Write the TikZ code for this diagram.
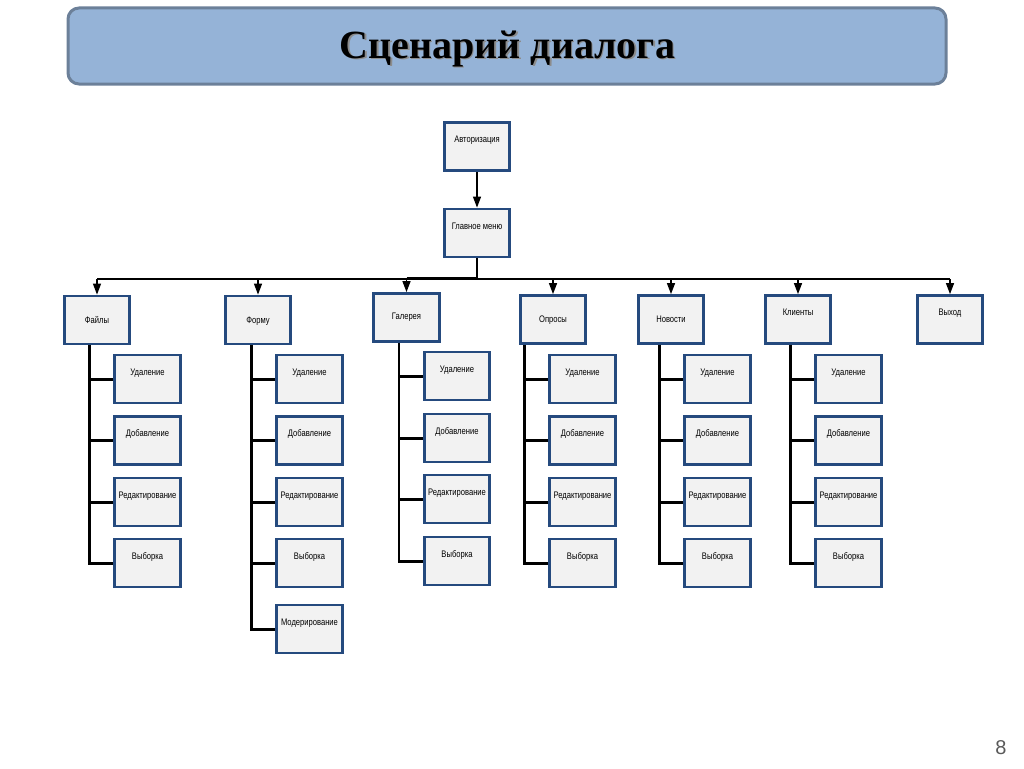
\documentclass[tikz,border=0pt]{standalone}
\usepackage{fontspec}
\setmainfont{Liberation Serif}
\newfontfamily\narrow[FakeStretch=0.8]{Liberation Sans}
\newfontfamily\pgfont{Liberation Sans}
\usetikzlibrary{arrows.meta}
\definecolor{boxblue}{HTML}{254A7E}
\definecolor{boxfill}{HTML}{F2F2F2}
\definecolor{titlefill}{HTML}{95B3D7}
\definecolor{titleborder}{HTML}{6C8099}
\definecolor{pggray}{HTML}{595959}
\tikzset{
  box/.style={draw=boxblue, line width=2.8pt, fill=boxfill, minimum width=65.5pt,
    minimum height=48pt, inner sep=0pt, text height=7pt,
    font=\narrow\fontsize{9.5}{10}\selectfont},
  up/.style={text depth=15pt},
  mid/.style={text depth=1pt},
  lift/.style={text depth=4pt},
  arr/.style={line width=1.3pt, -{Triangle[length=11pt,width=8pt]}},
  bus/.style={line width=1.5pt},
  tree/.style={line width=2.6pt},
  twig/.style={line width=3pt},
}
\begin{document}
\begin{tikzpicture}[x=1pt,y=-1pt]
\useasboundingbox (0,0) rectangle (1024,768);
% title
\node[draw=titleborder, line width=3pt, fill=titlefill, rounded corners=11pt,
  minimum width=878pt, minimum height=76pt, inner sep=0pt] (title) at (507,46) {};
\node[text=black!45] at (508.8,50) {\fontsize{40}{44}\selectfont\bfseries Сценарий диалога};
\node (tt) at (507.5,48.5) {\fontsize{40}{44}\selectfont\bfseries Сценарий диалога};
% page number
\node[text=pggray, font=\pgfont\fontsize{20}{22}\selectfont] (pg) at (1001,748) {8};

% top nodes
\node[box, up] (au) at (477,146.5) {Авторизация};
\node[box, up] (gm) at (477,233) {Главное меню};
\coordinate (bs) at (477,279);

\node[box, mid] (fa) at (97,320) {Файлы};
\node[box, mid] (fo) at (258,320) {Форму};
\node[box, lift] (ga) at (406.5,317.5) {Галерея};
\node[box, mid] (op) at (553,319.5) {Опросы};
\node[box, mid] (no) at (671,319.5) {Новости};
\node[box, up] (kl) at (798,319.5) {Клиенты};
\node[box, up] (vy) at (950,319.5) {Выход};

% children
\foreach \p/\x in {fa/147.5, fo/309.5, op/582.5, no/717.5, kl/848.5}{
  \node[box, up] (\p1) at (\x,379) {Удаление};
  \node[box, up] (\p2) at (\x,440.5) {Добавление};
  \node[box, up] (\p3) at (\x,502) {Редактирование};
  \node[box, up] (\p4) at (\x,563) {Выборка};
}
\node[box, up] (ga1) at (457,376) {Удаление};
\node[box, up] (ga2) at (457,438) {Добавление};
\node[box, up] (ga3) at (457,499) {Редактирование};
\node[box, up] (ga4) at (457,561) {Выборка};
\node[box, up] (fo5) at (309.5,629) {Модерирование};

% connectors
\draw[arr] (au) -- (gm);
\draw[bus] (gm.south) -- (bs);
\draw[bus] (bs -| fa.north) -- (bs -| vy.north);
\draw[line width=3pt] ([yshift=1pt]bs -| ga.north) -- ([yshift=1pt]bs);
\foreach \p in {fa,fo,ga,op,no,kl,vy}{
  \draw[arr] (bs -| \p.north) -- (\p.north);
}
\foreach \p/\last in {fa/4, fo/5, ga/4, op/4, no/4, kl/4}{
  \draw[tree] ([xshift=-24pt]\p.south -| \p1.west) |- (\p\last.west);
  \foreach \i in {1,...,\last}{
    \draw[twig] (\p\i.west) -- ++(-25pt,0);
  }
}
\end{tikzpicture}
\end{document}
